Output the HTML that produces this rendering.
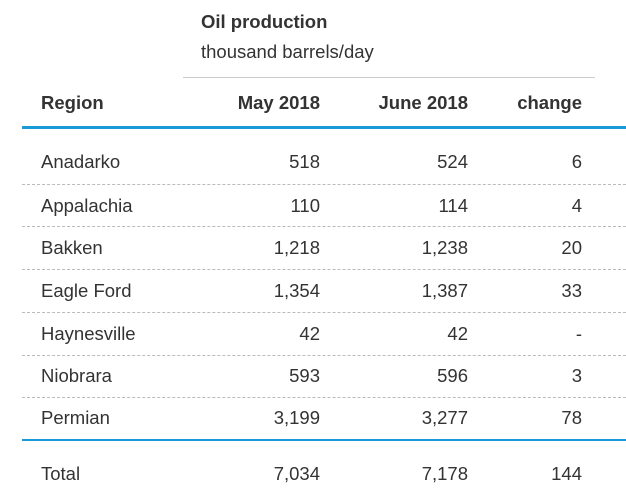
<!DOCTYPE html>
<html><head><meta charset="utf-8"><style>
body{margin:0;width:626px;height:499px;background:#fff;font-family:"Liberation Sans",sans-serif;color:#333;position:relative;overflow:hidden}
.t{position:absolute;font-size:18.5px;line-height:20px;white-space:nowrap}
.r{text-align:right}
.b{font-weight:bold}
.line{position:absolute}
</style></head><body>
<div class="t b" style="left:201px;top:12px">Oil production</div>
<div class="t" style="left:201px;top:42px">thousand barrels/day</div>
<div class="line" style="left:183px;top:77px;width:412px;height:1px;background:#ccc"></div>
<div class="t b" style="left:41px;top:93px">Region</div>
<div class="t b r" style="left:200px;width:120px;top:93px">May 2018</div>
<div class="t b r" style="left:340px;width:128px;top:93px">June 2018</div>
<div class="t b r" style="left:480px;width:102px;top:93px">change</div>
<div class="line" style="left:22px;top:126px;width:604px;height:3px;background:#1a9ad6"></div>
<div id="rows"></div>
<div class="line" style="left:22px;top:439px;width:604px;height:2px;background:#1a9ad6"></div>
<script>
const regions=["Anadarko","Appalachia","Bakken","Eagle Ford","Haynesville","Niobrara","Permian","Total"];
const may=["518","110","1,218","1,354","42","593","3,199","7,034"];
const june=["524","114","1,238","1,387","42","596","3,277","7,178"];
const change=["6","4","20","33","-","3","78","144"];
const tops=[152,196,238,281,324,366,408,464];
const dashTops=[184,226,269,312,355,397];
const root=document.getElementById('rows');
function cell(txt,left,width,top,right,name){
  const d=document.createElement('div');
  d.className='t'+(right?' r':'');
  d.style.left=left+'px';d.style.top=top+'px';
  if(width)d.style.width=width+'px';
  d.textContent=txt;
  
  
  root.appendChild(d);
}
regions.forEach((r,i)=>{
  const k=r.toLowerCase().replace(/\s+/g,'-');
  cell(r,41,0,tops[i],false,'region-'+k);
  cell(may[i],200,120,tops[i],true,'may-'+k);
  cell(june[i],340,128,tops[i],true,'june-'+k);
  cell(change[i],480,102,tops[i],true,'change-'+k);
});
dashTops.forEach((y,i)=>{
  const l=document.createElement('div');
  l.className='line';
  l.style.left='22px';l.style.top=y+'px';l.style.width='604px';
  l.style.borderTop='1px dashed #bbb';
  
  
  root.appendChild(l);
});
</script>
</body></html>
